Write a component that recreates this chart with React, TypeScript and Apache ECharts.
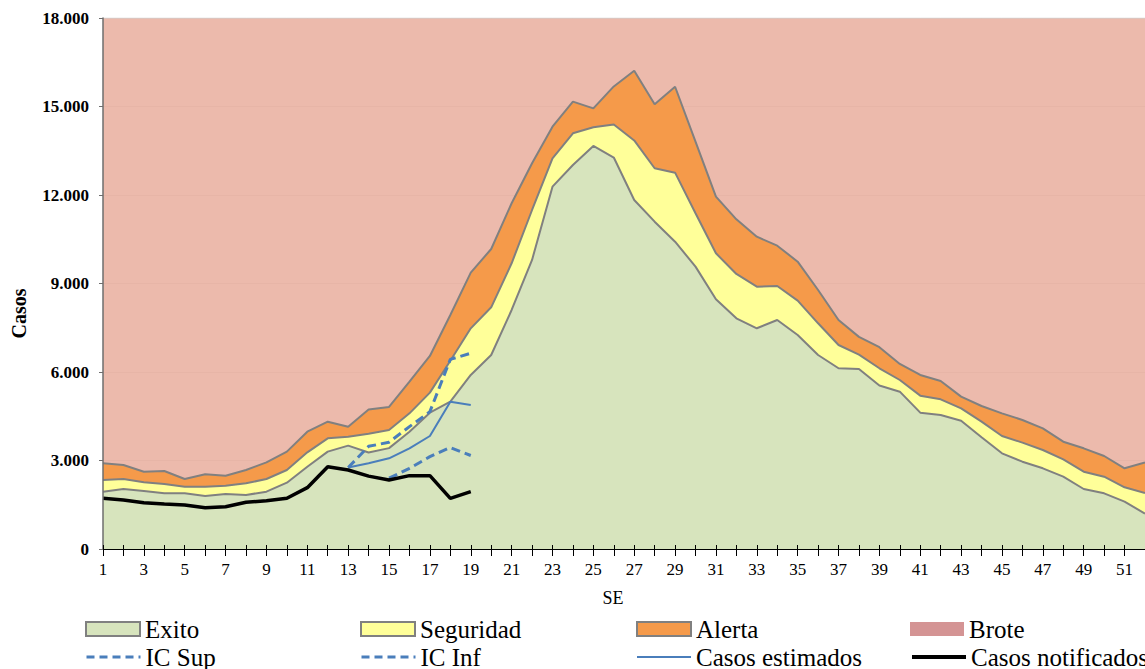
import React, { useEffect, useRef } from "react";
import * as echarts from "echarts";

const FONT = "Liberation Serif";

const weeks = [
  "1", "2", "3", "4", "5", "6", "7", "8", "9", "10", "11", "12", "13",
  "14", "15", "16", "17", "18", "19", "20", "21", "22", "23", "24", "25", "26",
  "27", "28", "29", "30", "31", "32", "33", "34", "35", "36", "37", "38", "39",
  "40", "41", "42", "43", "44", "45", "46", "47", "48", "49", "50", "51", "52",
];

// Umbral inferior (Exito / Q1)
const exito = [
  1943, 2034, 1966, 1887, 1887, 1797, 1864, 1831, 1943, 2248, 2790, 3300, 3503,
  3270, 3420, 3977, 4622, 4995, 5899, 6577, 8102, 9800, 12283, 13018, 13662, 13270,
  11831, 11096, 10418, 9571, 8465, 7821, 7482, 7763, 7255, 6577, 6126, 6100, 5540,
  5333, 4622, 4543, 4350, 3786, 3244, 2960, 2735, 2451, 2034, 1887, 1604, 1200,
];

// Mediana (Seguridad)
const seguridad = [
  2339, 2373, 2260, 2203, 2113, 2113, 2147, 2226, 2373, 2678, 3277, 3752, 3808,
  3910, 4034, 4599, 5300, 6380, 7480, 8193, 9685, 11492, 13245, 14092, 14294, 14390,
  13850, 12906, 12757, 11380, 10024, 9323, 8893, 8916, 8418, 7651, 6916, 6590, 6126,
  5729, 5198, 5074, 4769, 4316, 3831, 3605, 3356, 3040, 2621, 2451, 2092, 1900,
];

// Umbral superior (Alerta / Q3)
const alerta = [
  2905, 2848, 2621, 2644, 2373, 2532, 2486, 2678, 2938, 3300, 3977, 4316, 4147,
  4730, 4815, 5672, 6543, 7933, 9367, 10170, 11720, 13076, 14316, 15164, 14938, 15680,
  16210, 15075, 15670, 13807, 11943, 11176, 10587, 10282, 9740, 8780, 7763, 7190, 6840,
  6272, 5899, 5695, 5164, 4848, 4599, 4373, 4091, 3638, 3413, 3153, 2735, 2930,
];

// Brote (fills to the top of the scale)
const brote = [
  18000, 18000, 18000, 18000, 18000, 18000, 18000, 18000, 18000, 18000, 18000, 18000, 18000,
  18000, 18000, 18000, 18000, 18000, 18000, 18000, 18000, 18000, 18000, 18000, 18000, 18000,
  18000, 18000, 18000, 18000, 18000, 18000, 18000, 18000, 18000, 18000, 18000, 18000, 18000,
  18000, 18000, 18000, 18000, 18000, 18000, 18000, 18000, 18000, 18000, 18000, 18000, 18000,
];

const casosNotificados = [
  1718, 1661, 1570, 1526, 1492, 1400, 1434, 1583, 1638, 1718, 2079, 2790, 2678,
  2470, 2339, 2486, 2486, 1718, 1943,
];

const casosEstimados = [
  null, null, null, null, null, null, null, null, null, null, null, null, 2760,
  2904, 3074, 3413, 3831, 4995, 4882,
];

const icSup = [
  null, null, null, null, null, null, null, null, null, null, null, null, 2760,
  3480, 3620, 4147, 4656, 6430, 6634,
];

const icInf = [
  null, null, null, null, null, null, null, null, null, null, null, null, null,
  null, 2400, 2735, 3130, 3440, 3170,
];

const yTicks = { min: 0, max: 18000, interval: 3000 };

const COLORS = {
  exito: "#D7E4BD",
  seguridad: "#FFFF99",
  alerta: "#F59A4A",
  broteLegend: "#D49494",
  broteFill: "rgba(234,178,163,0.9)",
  border: "#808080",
  blue: "#4A7EBB",
  black: "#000000",
};

function fmtThousands(v: number): string {
  if (v === 0) return "0";
  const s = String(Math.round(v));
  return s.replace(/\B(?=(\d{3})+(?!\d))/g, ".");
}

function areaSeries(name: string, data: number[], color: string, fill: string, z: number, lineColor: string, lineWidth: number) {
  return {
    name,
    type: "line",
    data,
    symbol: "none",
    showSymbol: false,
    lineStyle: { color: lineColor, width: lineWidth },
    itemStyle: { color },
    areaStyle: { color: fill, opacity: 1, origin: "start" },
    emphasis: { disabled: true },
    z,
  };
}

export default function App() {
  const ref = useRef<HTMLDivElement>(null);

  useEffect(() => {
    if (!ref.current) return;
    const chart = echarts.init(ref.current, undefined, { renderer: "svg" });

    const legendText = { fontFamily: FONT, fontSize: 25, color: "#000", lineHeight: 26 };
    const cols = [85, 360, 636, 910];
    const rows = [616, 644];

    const mkLegend = (left: number, top: number, item: any) => ({
      left,
      top,
      padding: 0,
      itemWidth: 54,
      itemHeight: 14,
      itemGap: 0,
      selectedMode: false,
      textStyle: legendText,
      data: [item],
    });

    const option: any = {
      animation: false,
      backgroundColor: "#ffffff",
      textStyle: { fontFamily: FONT },
      grid: { left: 103, top: 18, width: 1053, height: 531, containLabel: false },
      legend: [
        mkLegend(cols[0], rows[0], { name: "Exito", icon: "rect", itemStyle: { color: COLORS.exito, borderColor: COLORS.border, borderWidth: 2 } }),
        mkLegend(cols[1], rows[0], { name: "Seguridad", icon: "rect", itemStyle: { color: COLORS.seguridad, borderColor: COLORS.border, borderWidth: 2 } }),
        mkLegend(cols[2], rows[0], { name: "Alerta", icon: "rect", itemStyle: { color: COLORS.alerta, borderColor: COLORS.border, borderWidth: 2 } }),
        mkLegend(cols[3], rows[0], { name: "Brote", icon: "rect", itemStyle: { color: COLORS.broteLegend, borderWidth: 0 } }),
        mkLegend(cols[0], rows[1], { name: "IC Sup", itemStyle: { opacity: 0 }, lineStyle: { color: COLORS.blue, width: 3, type: [8, 5] } }),
        mkLegend(cols[1], rows[1], { name: "IC Inf", itemStyle: { opacity: 0 }, lineStyle: { color: COLORS.blue, width: 3, type: [8, 5] } }),
        mkLegend(cols[2], rows[1], { name: "Casos estimados", itemStyle: { opacity: 0 }, lineStyle: { color: COLORS.blue, width: 2, type: "solid" } }),
        mkLegend(cols[3], rows[1], { name: "Casos notificados", itemStyle: { opacity: 0 }, lineStyle: { color: COLORS.black, width: 4, type: "solid" } }),
      ],
      xAxis: [
        {
          type: "category",
          data: weeks,
          boundaryGap: false,
          position: "bottom",
          z: 10,
          axisLine: { show: true, lineStyle: { color: "#000", width: 1 } },
          axisTick: { show: true, interval: 0, length: 7, lineStyle: { color: "#000", width: 1 } },
          axisLabel: { interval: 1, margin: 12, fontFamily: FONT, fontSize: 17, color: "#000" },
          splitLine: { show: false },
          name: "SE",
          nameLocation: "middle",
          nameGap: 40,
          nameTextStyle: { fontFamily: FONT, fontSize: 18, color: "#000", padding: [0, 22, 0, 0] },
        },
        {
          type: "category",
          data: weeks,
          boundaryGap: false,
          position: "bottom",
          z: 10,
          axisLine: { show: false },
          axisTick: { show: true, inside: true, interval: 0, length: 4, lineStyle: { color: "#000", width: 1 } },
          axisLabel: { show: false },
          splitLine: { show: false },
        },
      ],
      yAxis: [
        {
          type: "value",
          min: yTicks.min,
          max: yTicks.max,
          interval: yTicks.interval,
          position: "left",
          z: 10,
          axisLine: { show: true, lineStyle: { color: "#6E6E6E", width: 1.5 } },
          axisTick: { show: true, length: 4, lineStyle: { color: "#6E6E6E" } },
          axisLabel: { formatter: fmtThousands, margin: 14, fontFamily: FONT, fontSize: 17, fontWeight: "bold", color: "#000" },
          splitLine: { show: false },
          name: "Casos",
          nameLocation: "middle",
          nameRotate: 90,
          nameGap: 74,
          nameTextStyle: { fontFamily: FONT, fontSize: 20, fontWeight: "bold", color: "#000", padding: [0, 60, 0, 0] },
        },
        {
          type: "value",
          min: yTicks.min,
          max: yTicks.max,
          interval: yTicks.interval,
          position: "left",
          z: 0,
          axisLine: { show: false },
          axisTick: { show: false },
          axisLabel: { show: false },
          splitLine: { show: true, lineStyle: { color: "#C9C9C9", width: 1 } },
        },
      ],
      series: [
        areaSeries("Brote", brote, COLORS.broteLegend, COLORS.broteFill, 2, "#D4D4D4", 1),
        areaSeries("Alerta", alerta, COLORS.alerta, COLORS.alerta, 3, COLORS.border, 2),
        areaSeries("Seguridad", seguridad, COLORS.seguridad, COLORS.seguridad, 4, COLORS.border, 2),
        areaSeries("Exito", exito, COLORS.exito, COLORS.exito, 5, COLORS.border, 2),
        {
          name: "Casos estimados",
          type: "line",
          data: casosEstimados,
          symbol: "none",
          connectNulls: false,
          lineStyle: { color: COLORS.blue, width: 2 },
          itemStyle: { color: COLORS.blue },
          emphasis: { disabled: true },
          z: 6,
        },
        {
          name: "IC Sup",
          type: "line",
          data: icSup,
          symbol: "none",
          connectNulls: false,
          lineStyle: { color: COLORS.blue, width: 3, type: [9, 5] },
          itemStyle: { color: COLORS.blue },
          emphasis: { disabled: true },
          z: 6,
        },
        {
          name: "IC Inf",
          type: "line",
          data: icInf,
          symbol: "none",
          connectNulls: false,
          lineStyle: { color: COLORS.blue, width: 3, type: [9, 5] },
          itemStyle: { color: COLORS.blue },
          emphasis: { disabled: true },
          z: 6,
        },
        {
          name: "Casos notificados",
          type: "line",
          data: casosNotificados,
          symbol: "none",
          connectNulls: false,
          lineStyle: { color: COLORS.black, width: 3.5 },
          itemStyle: { color: COLORS.black },
          emphasis: { disabled: true },
          z: 7,
        },
      ],
    };

    chart.setOption(option);
    return () => {
      chart.dispose();
    };
  }, []);

  return (
    <div
      ref={ref}
      style={{ position: "absolute", left: 0, top: 0, width: 1145, height: 669, overflow: "hidden" }}
    />
  );
}
